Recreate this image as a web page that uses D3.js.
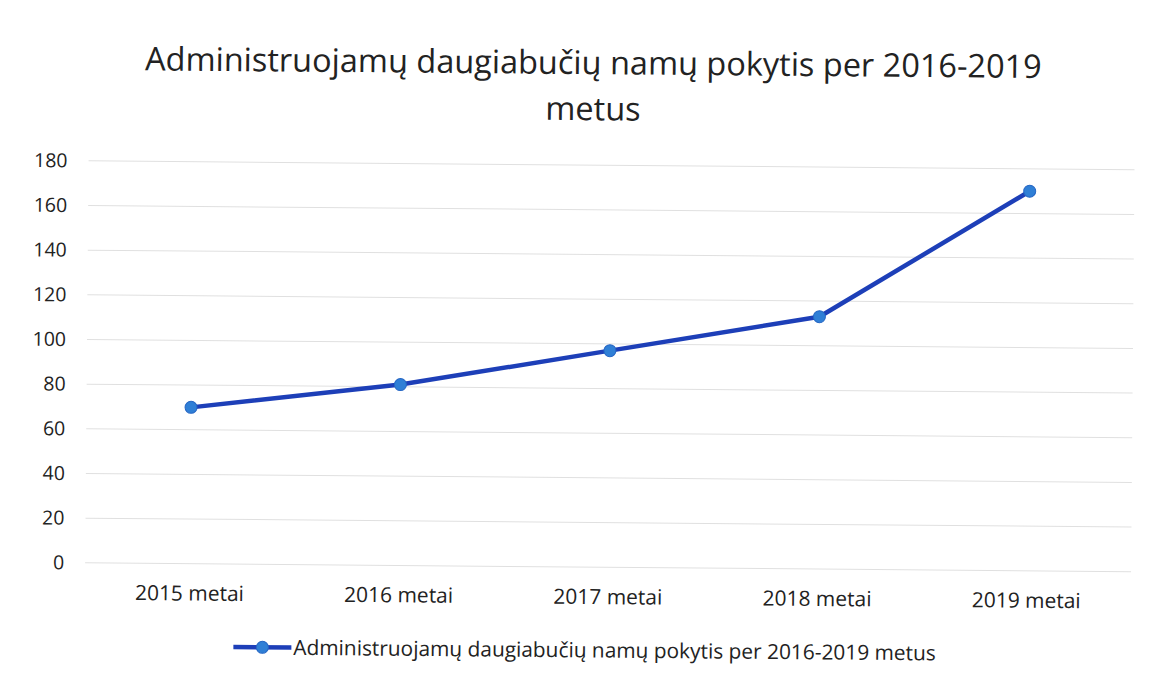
<!DOCTYPE html>
<html>
<head>
<meta charset="utf-8">
<script src="https://cdn.jsdelivr.net/npm/d3@7"></script>
<style>
  html, body { margin: 0; padding: 0; background: #fff; }
  svg text { font-family: "Open Sans", "Noto Sans", sans-serif; fill: #222; }
</style>
</head>
<body>
<div id="chart"></div>
<script>
const categories = ["2015 metai", "2016 metai", "2017 metai", "2018 metai", "2019 metai"];
const values = [70, 81, 97, 113, 170];
const yTicks = [0, 20, 40, 60, 80, 100, 120, 140, 160, 180];
const titleLines = ["Administruojamų daugiabučių namų pokytis per 2016-2019", "metus"];
const seriesName = "Administruojamų daugiabučių namų pokytis per 2016-2019 metus";

const width = 1155, height = 686;
const plot = { left: 87, right: 1133, top: 165, bottom: 567 };

const svg = d3.select("#chart").append("svg")
    .attr("width", width)
    .attr("height", height);

// the scan is slightly tilted
const g = svg.append("g")
    .attr("transform", "rotate(0.49 577 343)");

const x = d3.scaleBand()
    .domain(categories)
    .range([plot.left, plot.right]);

const y = d3.scaleLinear()
    .domain([0, 180])
    .range([plot.bottom, plot.top]);

// fit text to a measured width from the picture
function fitText (sel, target) {
    const len = sel.node().getComputedTextLength();
    const fs = parseFloat(sel.style("font-size"));
    sel.style("font-size", (fs * target / len) + "px");
    return fs * target / len;
}

// gridlines
g.append("g")
    .selectAll("line")
    .data(yTicks)
    .join("line")
    .attr("x1", plot.left)
    .attr("x2", plot.right)
    .attr("y1", d => y(d))
    .attr("y2", d => y(d))
    .attr("stroke", "#e0e0e0")
    .attr("stroke-width", 1);

// y axis labels
const yAxis = g.append("g")
    .attr("transform", "translate(" + (plot.left - 21) + ",0)")
    .call(d3.axisLeft(y).tickValues(yTicks).tickSize(0).tickPadding(0));
yAxis.select(".domain").remove();
yAxis.selectAll("text")
    .style("font-size", "19.5px")
    .attr("fill", "#222");

// x axis labels
const xAxis = g.append("g")
    .attr("transform", "translate(0," + plot.bottom + ")")
    .call(d3.axisBottom(x).tickSize(0).tickPadding(22));
xAxis.select(".domain").remove();
const xl = xAxis.selectAll("text")
    .style("font-size", "20px")
    .attr("fill", "#222");
const xfs = fitText(d3.select(xl.node()), 109);
xl.style("font-size", xfs + "px");

// line
const line = d3.line()
    .x((d, i) => x(categories[i]) + x.bandwidth() / 2)
    .y(d => y(d));

g.append("path")
    .datum(values)
    .attr("d", line)
    .attr("fill", "none")
    .attr("stroke", "#1d3fb8")
    .attr("stroke-width", 4.5)
    .attr("stroke-linejoin", "round");

g.append("g")
    .selectAll("circle")
    .data(values)
    .join("circle")
    .attr("cx", (d, i) => x(categories[i]) + x.bandwidth() / 2)
    .attr("cy", d => y(d))
    .attr("r", 6)
    .attr("fill", "#2f7fd6")
    .attr("stroke", "#2566c4")
    .attr("stroke-width", 1);

// title
const title = g.append("g").attr("class", "title");
const t1 = title.append("text")
    .attr("x", 591)
    .attr("y", 74)
    .attr("text-anchor", "middle")
    .style("font-size", "28px")
    .text(titleLines[0]);
fitText(t1, 897);
title.append("text")
    .attr("x", 591)
    .attr("y", 120)
    .attr("text-anchor", "middle")
    .style("font-size", t1.style("font-size"))
    .text(titleLines[1]);

// legend
const legend = g.append("g").attr("transform", "translate(236,650)");
legend.append("line")
    .attr("x1", 0)
    .attr("x2", 58)
    .attr("stroke", "#1d3fb8")
    .attr("stroke-width", 4.5);
legend.append("circle")
    .attr("cx", 29)
    .attr("r", 6)
    .attr("fill", "#2f7fd6")
    .attr("stroke", "#2566c4");
const lt = legend.append("text")
    .attr("x", 60)
    .attr("y", 0)
    .attr("dy", "0.35em")
    .style("font-size", "18px")
    .text(seriesName);
fitText(lt, 643);
</script>
</body>
</html>
